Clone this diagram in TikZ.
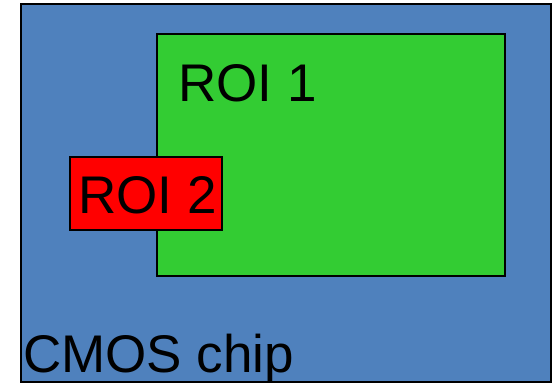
\documentclass[tikz,border=0pt]{standalone}
\usepackage{fontspec}
\setmainfont{Liberation Sans}
\definecolor{chipblue}{RGB}{79,129,189}
\definecolor{roigreen}{RGB}{51,204,51}
\definecolor{roired}{RGB}{255,0,0}
\begin{document}
\begin{tikzpicture}[x=1pt, y=1pt,
    region/.style={draw=black, line width=1.4pt, inner sep=0pt, outer sep=0pt},
    label/.style={font=\fontsize{53}{62}\selectfont, anchor=base west, inner sep=0pt}]
    \useasboundingbox (0,0) rectangle (552,383);
    % 芯片与两个感兴趣区域
    \node[region, fill=chipblue, minimum width=530pt, minimum height=378pt] (chip) at (286,190) {};
    \node[region, fill=roigreen, minimum width=348pt, minimum height=242pt] (roione) at (331,228) {};
    \node[region, fill=roired, minimum width=152pt, minimum height=73pt] (roitwo) at (146,189.5) {};
    % 标注
    \node[label] (roionetext) at (178,281) {ROI 1};
    \node[label] (roitwotext) at (78,169) {ROI 2};
    \node[label] (chiptext) at (23,10) {CMOS chip};
\end{tikzpicture}
\end{document}
